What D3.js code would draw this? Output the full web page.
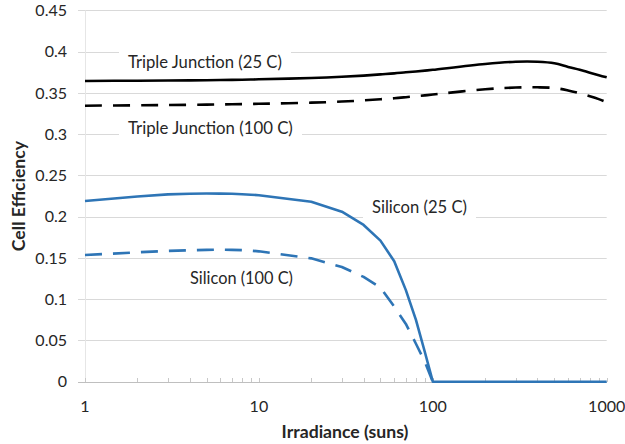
<!DOCTYPE html>
<html><head><meta charset="utf-8">
<script src="https://cdn.jsdelivr.net/npm/d3@7"></script>
<style>
body{margin:0;background:#fff}
text{font-family:Lato,"Liberation Sans",sans-serif;fill:#262626}
</style>
</head><body>
<svg id="c" width="625" height="444"></svg>
<script>
// ---- data ----
const irradiance = [1,2,3,4,5,6,7,8,9,10,20,30,40,50,60,70,80,90,100,200,300,400,500,600,700,800,900,1000];
const tj25  = [0.3645,0.3648,0.3650,0.3652,0.3654,0.3656,0.3658,0.3660,0.3662,0.3665,0.3680,0.3695,0.3710,0.3725,0.3737,0.3750,0.3760,0.3770,0.3780,0.3850,0.3878,0.3878,0.3860,0.3815,0.3780,0.3745,0.3715,0.3690];
const tj100 = [0.3345,0.3350,0.3353,0.3356,0.3358,0.3360,0.3362,0.3364,0.3366,0.3368,0.3382,0.3395,0.3410,0.3423,0.3435,0.3448,0.3460,0.3470,0.3480,0.3545,0.3565,0.3568,0.3560,0.3530,0.3495,0.3460,0.3425,0.3387];
const si25  = [0.2190,0.2245,0.2270,0.2278,0.2280,0.2280,0.2277,0.2272,0.2266,0.2260,0.2180,0.2060,0.1900,0.1710,0.1460,0.1110,0.0750,0.0360,0,0,0,0,0,0,0,0,0,0];
const si100 = [0.1535,0.1568,0.1585,0.1593,0.1598,0.1600,0.1598,0.1594,0.1588,0.1580,0.1495,0.1390,0.1270,0.1140,0.0910,0.0700,0.0460,0.0240,0,null,null,null,null,null,null,null,null,null];
const seriesNames = ["Triple Junction (25 C)","Triple Junction (100 C)","Silicon (25 C)","Silicon (100 C)"];
const yTicks = [0,0.05,0.1,0.15,0.2,0.25,0.3,0.35,0.4,0.45];
const yTickLabels = ["0","0.05","0.1","0.15","0.2","0.25","0.3","0.35","0.4","0.45"];
const xTicks = [1,10,100,1000];
const xTickLabels = ["1","10","100","1000"];
const xTitle = "Irradiance (suns)";
const yTitle = "Cell Efficiency";

// ---- layout ----
const svg = d3.select("#c");
const L = 85, R = 606.7, T = 10.4, B = 381.7;
const x = d3.scaleLog().domain([1,1000]).range([L,R]);
const y = d3.scaleLinear().domain([0,0.45]).range([B,T]);

function fit(sel, w){
  const cur = sel.node().getComputedTextLength();
  const fs = parseFloat(sel.attr("font-size"));
  sel.attr("font-size", fs*w/cur);
  return fs*w/cur;
}

// gridlines
svg.append("g").selectAll("line").data(yTicks.filter(d=>d>0)).join("line")
  .attr("x1",78).attr("x2",R).attr("y1",d=>Math.round(y(d))+0.5).attr("y2",d=>Math.round(y(d))+0.5)
  .attr("stroke","#d9d9d9").attr("stroke-width",1);
// faint y axis line
svg.append("line").attr("x1",L+0.5).attr("x2",L+0.5).attr("y1",T).attr("y2",B)
  .attr("stroke","#e6e6e6");
// x axis line
svg.append("line").attr("x1",78).attr("x2",R).attr("y1",Math.round(B)+0.5).attr("y2",Math.round(B)+0.5)
  .attr("stroke","#bfbfbf");
// minor/major x ticks
const minor = [];
[1,10,100].forEach(d=>{for(let k=2;k<=9;k++) minor.push(d*k);});
svg.append("g").selectAll("line").data(minor.concat(xTicks)).join("line")
  .attr("x1",d=>Math.round(x(d))+0.5).attr("x2",d=>Math.round(x(d))+0.5)
  .attr("y1",Math.round(B)).attr("y2",Math.round(B)-4)
  .attr("stroke","#c8c8c8");

// tick labels
const yl = svg.append("g").selectAll("text").data(yTicks).join("text")
  .attr("x",67).attr("y",d=>y(d)).attr("dy","0.36em").attr("text-anchor","end")
  .attr("font-size",16).text((d,i)=>yTickLabels[i]);
const tfs = fit(d3.select(yl.nodes()[9]), 31.7);
yl.attr("font-size", tfs);
svg.append("g").selectAll("text").data(xTicks).join("text")
  .attr("x",d=>x(d)).attr("y",406.7).attr("dy","0.36em").attr("text-anchor","middle")
  .attr("font-size",tfs).text((d,i)=>xTickLabels[i]);

// axis titles
const xt = svg.append("text").attr("x",345).attr("y",431.7).attr("dy","0.36em")
  .attr("text-anchor","middle").attr("font-weight","bold").attr("font-size",16).text(xTitle);
const afs = fit(xt,127);
svg.append("text").attr("transform","translate(19,196) rotate(-90)").attr("dy","0.36em")
  .attr("text-anchor","middle").attr("font-weight","bold").attr("font-size",afs).text(yTitle);

// series labels with white boxes
const labelPos = [[128,61.7,154],[128,128.3,165],[372,206.7,95],[190,278.3,103]];
seriesNames.forEach((name,i)=>{
  const [lx,cy,w] = labelPos[i];
  const g = svg.append("g");
  const r = g.append("rect").attr("fill","#fff");
  const t = g.append("text").attr("x",lx).attr("y",cy).attr("dy","0.36em")
    .attr("font-size",16).text(name);
  const fs = fit(t,w);
  r.attr("x",lx-9).attr("y",cy-fs*0.75).attr("width",w+18).attr("height",fs*1.5);
});

// lines
const pts = vals => irradiance.map((d,i)=>[d,vals[i]]).filter(p=>p[1]!==null);
const lineSmooth = d3.line().x(d=>x(d[0])).y(d=>y(d[1])).curve(d3.curveCatmullRom.alpha(0.5));
const lineSi = d3.line().x(d=>x(d[0])).y(d=>y(d[1])).curve(d3.curveLinear);
const dash = "17,11";
svg.append("path").attr("d",lineSi(pts(si100))).attr("fill","none").attr("stroke","#2e75b6")
  .attr("stroke-width",2.6).attr("stroke-dasharray",dash).attr("stroke-linejoin","round");
svg.append("path").attr("d",lineSi(pts(si25))).attr("fill","none").attr("stroke","#2e75b6")
  .attr("stroke-width",2.6).attr("stroke-linejoin","round");
svg.append("path").attr("d",lineSmooth(pts(tj100))).attr("fill","none").attr("stroke","#000")
  .attr("stroke-width",2.6).attr("stroke-dasharray",dash);
svg.append("path").attr("d",lineSmooth(pts(tj25))).attr("fill","none").attr("stroke","#000")
  .attr("stroke-width",2.6);
</script>
</body></html>
